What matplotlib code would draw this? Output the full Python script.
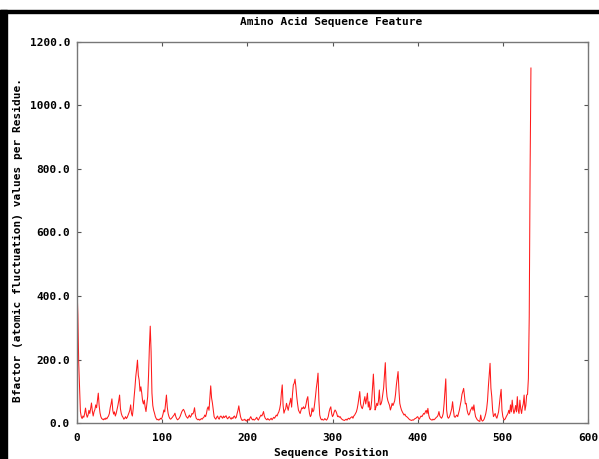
import matplotlib
matplotlib.use("Agg")
import matplotlib.pyplot as plt
from matplotlib.patches import Rectangle

title = "Amino Acid Sequence Feature"
xlabel = "Sequence Position"
ylabel = "Bfactor (atomic fluctuation) values per Residue."
xticks = [0, 100, 200, 300, 400, 500, 600]
yticks = [0, 200, 400, 600, 800, 1000, 1200]

bfactor = [
    430, 340, 190, 110, 36, 20, 14, 22, 18, 30,
    47, 28, 18, 25, 40, 30, 45, 63, 38, 22,
    35, 42, 57, 48, 70, 94, 55, 32, 20, 14,
    12, 10, 14, 11, 16, 13, 18, 22, 30, 48,
    60, 76, 40, 28, 35, 22, 30, 42, 55, 70,
    88, 45, 30, 22, 18, 12, 15, 20, 14, 18,
    25, 32, 40, 57, 30, 22, 45, 80, 110, 146,
    170, 198, 150, 135, 100, 114, 95, 70, 60, 72,
    50, 36, 60, 83, 150, 240, 305, 225, 94, 55,
    40, 31, 20, 14, 10, 12, 9, 11, 15, 12,
    18, 28, 41, 35, 60, 88, 50, 30, 20, 14,
    12, 15, 18, 22, 25, 31, 20, 14, 10, 12,
    15, 20, 28, 35, 40, 43, 38, 30, 22, 18,
    15, 20, 25, 18, 22, 30, 28, 35, 48, 25,
    15, 12, 10, 12, 9, 11, 14, 12, 16, 18,
    25, 20, 30, 45, 51, 40, 80, 117, 79, 63,
    40, 20, 15, 12, 18, 22, 15, 12, 20, 22,
    18, 15, 22, 17, 20, 23, 16, 13, 18, 20,
    15, 12, 17, 14, 20, 22, 15, 18, 30, 40,
    54, 35, 20, 12, 8, 10, 9, 12, 8, 6,
    10, 12, 8, 15, 20, 14, 10, 12, 9, 11,
    14, 18, 12, 9, 15, 20, 25, 22, 28, 36,
    22, 15, 12, 10, 14, 11, 9, 12, 15, 10,
    14, 18, 15, 20, 25, 22, 30, 35, 45, 60,
    95, 120, 55, 31, 40, 45, 62, 50, 40, 55,
    65, 78, 50, 90, 120, 125, 138, 114, 83, 60,
    41, 35, 30, 40, 48, 45, 51, 45, 48, 60,
    75, 83, 50, 30, 20, 25, 47, 35, 40, 60,
    83, 110, 130, 157, 72, 25, 15, 10, 12, 9,
    10, 14, 11, 9, 13, 20, 35, 45, 51, 30,
    20, 25, 35, 41, 37, 30, 20, 22, 18, 20,
    15, 12, 10, 9, 8, 10, 12, 9, 13, 15,
    12, 16, 18, 20, 15, 22, 25, 30, 35, 45,
    60, 80, 99, 60, 50, 45, 55, 70, 83, 60,
    75, 94, 50, 67, 41, 45, 70, 110, 154, 95,
    41, 50, 62, 55, 70, 104, 57, 60, 70, 90,
    110, 150, 190, 114, 83, 70, 62, 55, 41, 50,
    62, 55, 62, 70, 90, 120, 140, 162, 104, 62,
    50, 41, 35, 30, 25, 28, 22, 20, 18, 15,
    12, 10, 9, 8, 10, 9, 12, 14, 15, 18,
    20, 15, 12, 18, 22, 20, 25, 30, 28, 35,
    40, 30, 46, 25, 15, 12, 10, 9, 12, 10,
    12, 15, 18, 20, 25, 36, 22, 18, 15, 20,
    30, 60, 100, 139, 41, 20, 15, 18, 25, 35,
    45, 67, 40, 20, 18, 22, 25, 20, 30, 41,
    55, 70, 90, 100, 109, 83, 60, 62, 41, 30,
    25, 30, 40, 45, 51, 40, 57, 35, 20, 15,
    10, 8, 6, 5, 25, 10, 6, 8, 12, 20,
    30, 45, 70, 114, 150, 188, 110, 83, 41, 20,
    25, 30, 20, 15, 25, 35, 60, 85, 106, 40,
    20, 12, 10, 14, 20, 25, 30, 40, 30, 57,
    35, 72, 45, 30, 40, 55, 35, 83, 40, 30,
    72, 45, 30, 50, 60, 88, 40, 55, 88, 90,
    140, 335, 790, 1118,
]
positions = list(range(len(bfactor)))

plt.rcParams['font.family'] = ['DejaVu Sans Mono']
fs = 8

fig = plt.figure(figsize=(5.99, 4.59), dpi=100)
W, H = 599, 459
ax = fig.add_axes([77 / W, (H - 423) / H, (588 - 77) / W, (423 - 42) / H])

ax.plot(positions, bfactor, color='#ff1a1a', lw=0.75)

ax.set_xlim(0, 600)
ax.set_ylim(0, 1200)
ax.set_xticks(xticks)
ax.set_yticks(yticks)
ax.set_xticklabels([str(t) for t in xticks], fontsize=fs, fontweight='bold')
ax.set_yticklabels([f"{t:.1f}" for t in yticks], fontsize=fs, fontweight='bold')
ax.tick_params(direction='in', length=3, width=0.8, color='#555555',
               top=True, right=True)
ax.tick_params(axis='x', pad=7)
ax.tick_params(axis='y', pad=5)
for s in ax.spines.values():
    s.set_color('#777777')
    s.set_linewidth(1.0)

ax.set_xlabel(xlabel, fontsize=fs, fontweight='bold', va='center')
ax.set_ylabel(ylabel, fontsize=fs, fontweight='bold', va='center')
ax.xaxis.set_label_coords((331 - 77) / 511, (423 - 453) / 381)
ax.yaxis.set_label_coords((18 - 77) / 511, (423 - 240) / 381)
fig.text(331 / W, (H - 22) / H, title, fontsize=fs, fontweight='bold',
         ha='center', va='center')

# black frame fragments (top and left)
fig.patches.append(Rectangle((0, 0), 7 / W, (H - 10) / H, transform=fig.transFigure,
                             color='black', zorder=10))
fig.patches.append(Rectangle((0, (H - 13) / H), 1, 3 / H, transform=fig.transFigure,
                             color='black', zorder=10))

fig.savefig('out.png', dpi=100)
